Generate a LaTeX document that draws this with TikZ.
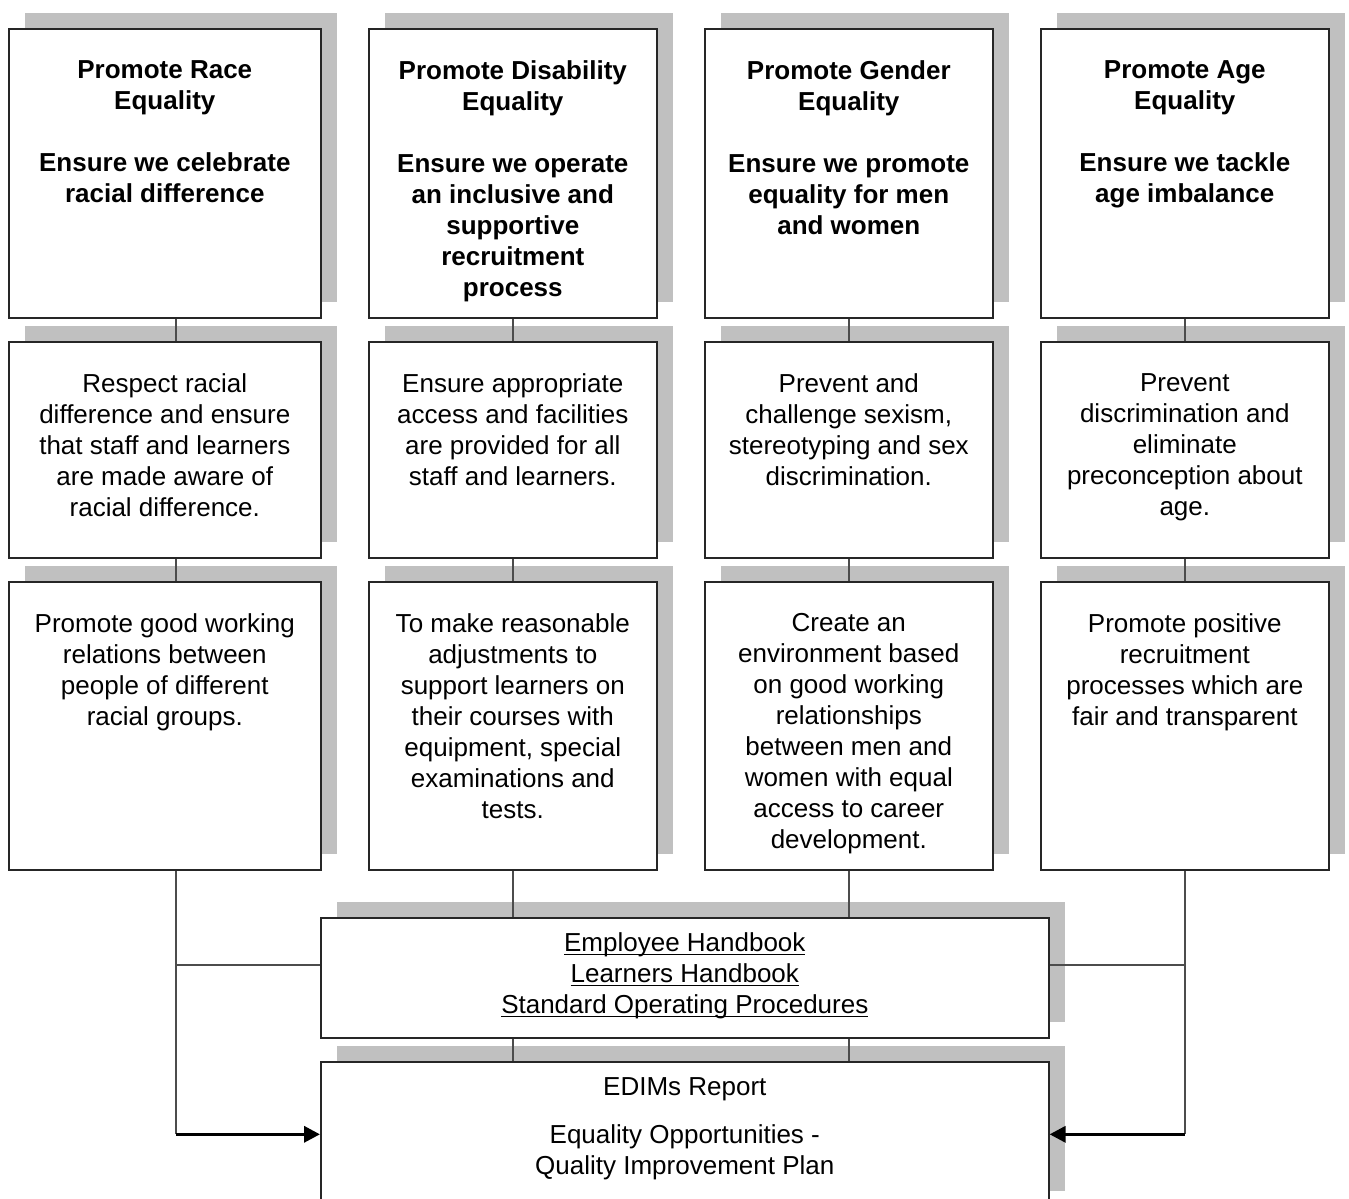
\documentclass[tikz,border=0pt]{standalone}
\usepackage{fontspec}
\setmainfont{Liberation Sans}
\usetikzlibrary{arrows.meta,shadows}
\definecolor{shadowgray}{RGB}{192,192,192}
\newcommand\linkname[1]{\underline{\raisebox{0pt}[\height][0pt]{#1}}}

\tikzset{
  box/.style={rectangle, draw=black!85, line width=0.8pt, fill=white, inner sep=0pt,
    anchor=north west, minimum width=144pt,
    drop shadow={shadow xshift=8pt, shadow yshift=8pt, fill=shadowgray, opacity=1}},
  toprow/.style={box, minimum height=144.5pt},
  midrow/.style={box, minimum height=108pt},
  lowrow/.style={box, minimum height=144pt},
  boxtext/.style={anchor=north, inner sep=0pt, align=center,
    font=\fontsize{13}{15.5}\selectfont},
  link/.style={draw=black!70, line width=0.8pt},
  feed/.style={line width=1.7pt, -{Triangle[length=8pt,width=8pt]}},
}

\begin{document}
\begin{tikzpicture}[x=0.5pt,y=-0.5pt]
\clip (0,0) rectangle (1349,1199);

% first row
\node[toprow, minimum width=156pt] (race1) at (8,28) {};
\node[toprow] (dis1) at (368,28) {};
\node[toprow] (gender1) at (704,28) {};
\node[toprow] (age1) at (1040,28) {};

\node[boxtext, font=\fontsize{13}{15.5}\selectfont\bfseries] (race1text) at ([yshift=-16pt]race1.north)
  {Promote Race\\Equality\\[15.5pt]Ensure we celebrate\\racial difference};
\node[boxtext, font=\fontsize{13}{15.5}\selectfont\bfseries] (dis1text) at ([yshift=-16pt]dis1.north)
  {Promote Disability\\Equality\\[15.5pt]Ensure we operate\\an inclusive and\\supportive\\recruitment\\process};
\node[boxtext, font=\fontsize{13}{15.5}\selectfont\bfseries] (gender1text) at ([yshift=-16pt]gender1.north)
  {Promote Gender\\Equality\\[15.5pt]Ensure we promote\\equality for men\\and women};
\node[boxtext, font=\fontsize{13}{15.5}\selectfont\bfseries] (age1text) at ([yshift=-16pt]age1.north)
  {Promote Age\\Equality\\[15.5pt]Ensure we tackle\\age imbalance};

% second row
\node[midrow, minimum width=156pt] (race2) at (8,341) {};
\node[midrow] (dis2) at (368,341) {};
\node[midrow] (gender2) at (704,341) {};
\node[midrow] (age2) at (1040,341) {};

\node[boxtext] (race2text) at ([yshift=-16pt]race2.north)
  {Respect racial\\difference and ensure\\that staff and learners\\are made aware of\\racial difference.};
\node[boxtext] (dis2text) at ([yshift=-16pt]dis2.north)
  {Ensure appropriate\\access and facilities\\are provided for all\\staff and learners.};
\node[boxtext] (gender2text) at ([yshift=-16pt]gender2.north)
  {Prevent and\\challenge sexism,\\stereotyping and sex\\discrimination.};
\node[boxtext] (age2text) at ([yshift=-16pt]age2.north)
  {Prevent\\discrimination and\\eliminate\\preconception about\\age.};

% third row
\node[lowrow, minimum width=156pt] (race3) at (8,581) {};
\node[lowrow] (dis3) at (368,581) {};
\node[lowrow] (gender3) at (704,581) {};
\node[lowrow] (age3) at (1040,581) {};

\node[boxtext] (race3text) at ([yshift=-16pt]race3.north)
  {Promote good working\\relations between\\people of different\\racial groups.};
\node[boxtext] (dis3text) at ([yshift=-16pt]dis3.north)
  {To make reasonable\\adjustments to\\support learners on\\their courses with\\equipment, special\\examinations and\\tests.};
\node[boxtext] (gender3text) at ([yshift=-16pt]gender3.north)
  {Create an\\environment based\\on good working\\relationships\\between men and\\women with equal\\access to career\\development.};
\node[boxtext] (age3text) at ([yshift=-16pt]age3.north)
  {Promote positive\\recruitment\\processes which are\\fair and transparent};

% handbooks and report
\node[box, minimum width=364pt, minimum height=60pt] (handbook) at (320,917) {};
\node[boxtext] (handbooktext) at ([yshift=-7.5pt]handbook.north)
  {\linkname{Employee Handbook}\\\linkname{Learners Handbook}\\\linkname{Standard Operating Procedures}};

\node[box, minimum width=364pt, minimum height=72.5pt] (report) at (320,1061) {};
\node[boxtext] (reporttext) at ([yshift=-8pt]report.north)
  {EDIMs Report\\[8.5pt]Equality Opportunities -\\Quality Improvement Plan};

% connectors
\coordinate (racex) at (176,0);
\coordinate (hbjoin) at (0,965);

\draw[link] (race1.south -| racex) -- (race2.north -| racex);
\draw[link] (race2.south -| racex) -- (race3.north -| racex);
\draw[link] (dis1.south) -- (dis2.north);
\draw[link] (dis2.south) -- (dis3.north);
\draw[link] (gender1.south) -- (gender2.north);
\draw[link] (gender2.south) -- (gender3.north);
\draw[link] (age1.south) -- (age2.north);
\draw[link] (age2.south) -- (age3.north);

\draw[link] (dis3.south) -- (dis3.south |- handbook.north);
\draw[link] (gender3.south) -- (gender3.south |- handbook.north);
\draw[link] (dis3.south |- handbook.south) -- (dis3.south |- report.north);
\draw[link] (gender3.south |- handbook.south) -- (gender3.south |- report.north);

\draw[link] (race3.south -| racex) -- (racex |- report.west);
\draw[link] (racex |- hbjoin) -- (handbook.west |- hbjoin);
\draw[feed] (racex |- report.west) -- (report.west);

\draw[link] (age3.south) -- (age3.south |- report.east);
\draw[link] (age3.south |- hbjoin) -- (handbook.east |- hbjoin);
\draw[feed] (age3.south |- report.east) -- (report.east);

\end{tikzpicture}
\end{document}
